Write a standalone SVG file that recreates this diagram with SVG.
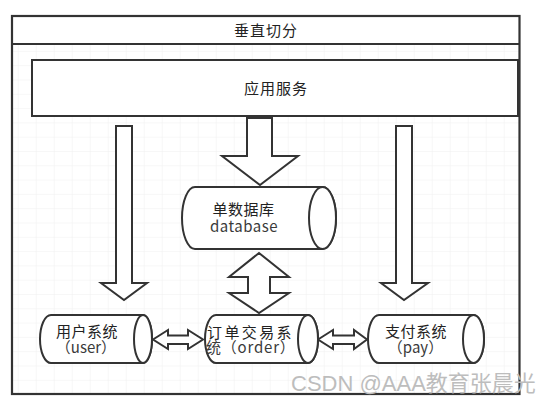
<svg xmlns="http://www.w3.org/2000/svg" width="552" height="406" viewBox="0 0 552 406">
  <defs>
    <pattern id="grid" x="17.7" y="8" width="18" height="14.3" patternUnits="userSpaceOnUse">
      <path d="M0 0 H18 M0 0 V14.3" fill="none" stroke="#f0f0f0" stroke-width="1"/>
    </pattern>
    <style>
      .shape { fill: #ffffff; stroke: #333333; stroke-width: 2; stroke-linejoin: miter; }
      .frame { fill: none; stroke: #333333; stroke-width: 2.2; }
      .t { font-family: "Noto Sans CJK SC", "Liberation Sans", sans-serif; font-size: 15px; fill: #222222; }
      .c { text-anchor: middle; }
      .g { fill: #3a3a3a; }
      .wm { font-family: "Liberation Sans", "Noto Sans CJK SC", sans-serif; font-size: 22px; fill: #bdbdbd; }
    </style>
  </defs>
  <rect x="0" y="0" width="552" height="406" fill="#ffffff"/>
  <rect x="12" y="44" width="507" height="350" fill="url(#grid)"/>

  <g id="frame">
    <rect class="frame" x="12" y="16" width="507.5" height="378"/>
    <line class="frame" x1="12" y1="44" x2="519.5" y2="44"/>
    <text class="t c" x="266" y="35.5" letter-spacing="1">垂直切分</text>
  </g>

  <g id="app">
    <rect class="shape" x="32" y="60" width="486" height="56"/>
    <text class="t c" x="276" y="93.5" letter-spacing="1">应用服务</text>
  </g>

  <g id="connectors">
    <polygon class="shape" points="116,126 132,126 132,283 147,283 124,300 101,283 116,283"/>
    <polygon class="shape" points="396,126 412,126 412,283 428,283 404,300 381,283 396,283"/>
    <polygon class="shape" points="247,118 272,118 272,156 298,156 260,185 222,156 247,156"/>
    <polygon class="shape" points="259,253 289,277 270,277 270,293 289,293 259,313 229,293 248,293 248,277 229,277"/>
    <polygon class="shape" points="153,339.5 168,330 168,335.5 188,335.5 188,330 203,339.5 188,349 188,344 168,344 168,349"/>
    <polygon class="shape" points="318,339.5 333,330 333,335.5 354,335.5 354,330 367,339.5 354,349 354,344 333,344 333,349"/>
  </g>

  <g id="database">
    <path class="shape" d="M195 187 L322.5 187 A13.5 31 0 0 1 322.5 249 L195 249 A13 31 0 0 1 195 187 Z"/>
    <ellipse class="shape" cx="322.5" cy="218" rx="13.5" ry="31"/>
    <text class="t c" x="243.5" y="215" letter-spacing="0.5">单数据库</text>
    <text class="t c g" x="244" y="231.5" font-size="15.5" letter-spacing="0.5">database</text>
  </g>

  <g id="user">
    <path class="shape" d="M51 315 L143 315 A9 24 0 0 1 143 363 L51 363 A11 24 0 0 1 51 315 Z"/>
    <ellipse class="shape" cx="143" cy="339" rx="9" ry="24"/>
    <text class="t c" x="87" y="337" letter-spacing="0.5">用户系统</text>
    <text class="t c g" x="86" y="352.5">（user）</text>
  </g>

  <g id="order">
    <path class="shape" d="M216 315 L308 315 A10 24 0 0 1 308 363 L216 363 A11 24 0 0 1 216 315 Z"/>
    <ellipse class="shape" cx="308" cy="339" rx="10" ry="24"/>
    <text class="t" x="207" y="337.5" letter-spacing="2.4">订单交易系</text>
    <text class="t g" x="206" y="352.5" letter-spacing="0.8">统（order）</text>
  </g>

  <g id="pay">
    <path class="shape" d="M379 315 L473.5 315 A10.5 24 0 0 1 473.5 363 L379 363 A11 24 0 0 1 379 315 Z"/>
    <ellipse class="shape" cx="473.5" cy="339" rx="10.5" ry="24"/>
    <text class="t c" x="416" y="337" letter-spacing="0.5">支付系统</text>
    <text class="t c g" x="415.5" y="352.5">（pay）</text>
  </g>

  <text class="wm" x="291" y="391">CSDN @AAA教育张晨光</text>
</svg>
